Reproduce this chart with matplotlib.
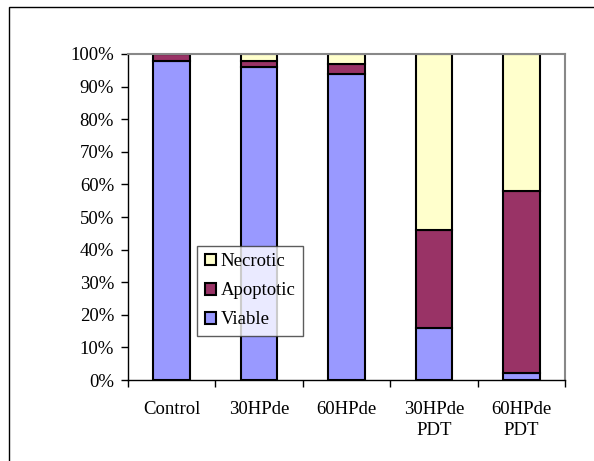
import numpy as np
import matplotlib.pyplot as plt
from matplotlib.patches import Rectangle

plt.rcParams['font.family'] = ['Liberation Serif', 'DejaVu Serif']

groups = ["Control", "30HPde", "60HPde", "30HPde\nPDT", "60HPde\nPDT"]
viable = [98, 96, 94, 16, 2]
apoptotic = [2, 2, 3, 30, 56]
necrotic = [0, 2, 3, 54, 42]

fig = plt.figure(figsize=(5.94, 4.61), dpi=100)
ax = fig.add_axes([128 / 594, 1 - 380 / 461, 437 / 594, 326 / 461])

x = np.arange(len(groups))
w = 0.42
kw = dict(width=w, edgecolor="black", linewidth=1.5)
b1 = ax.bar(x, viable, color="#9999FF", label="Viable", **kw)
b2 = ax.bar(x, apoptotic, bottom=viable, color="#993366", label="Apoptotic", **kw)
bot = np.array(viable) + np.array(apoptotic)
b3 = ax.bar(x, necrotic, bottom=bot, color="#FFFFCC", label="Necrotic", **kw)

fs = 13.5
ax.set_xlim(-0.5, len(groups) - 0.5)
ax.set_ylim(0, 100)
ax.set_yticks(np.arange(0, 101, 10))
ax.set_yticklabels([f"{v}%" for v in range(0, 101, 10)], fontsize=fs)
ax.set_xticks(x)
ax.set_xticklabels(groups, fontsize=fs, linespacing=1.3)
ax.tick_params(axis="x", length=0, pad=15)
ax.set_xticks(np.arange(-0.5, len(groups)), minor=True)
ax.tick_params(axis="x", which="minor", length=5, width=1, direction="out")
ax.tick_params(axis="y", length=5, width=1, direction="out", pad=5)

for s in ["left", "bottom"]:
    ax.spines[s].set_color("black")
    ax.spines[s].set_linewidth(1)
for s in ["top", "right"]:
    ax.spines[s].set_color("#888888")
    ax.spines[s].set_linewidth(1.5)

leg = ax.legend(handles=[b3, b2, b1], loc="lower left",
                bbox_to_anchor=(0.158, 0.135), fontsize=fs, frameon=True,
                fancybox=False, edgecolor="#333333", handlelength=0.6,
                handleheight=0.6, handletextpad=0.25, borderpad=0.4,
                labelspacing=0.65, borderaxespad=0)
leg.get_frame().set_linewidth(1)

# outer chart frame
fig.patches.append(Rectangle((9 / 594, -0.1), 1.2, 1 - 7 / 461 + 0.1,
                             transform=fig.transFigure, fill=False,
                             edgecolor="black", linewidth=1))

fig.savefig("out.png", dpi=100)
